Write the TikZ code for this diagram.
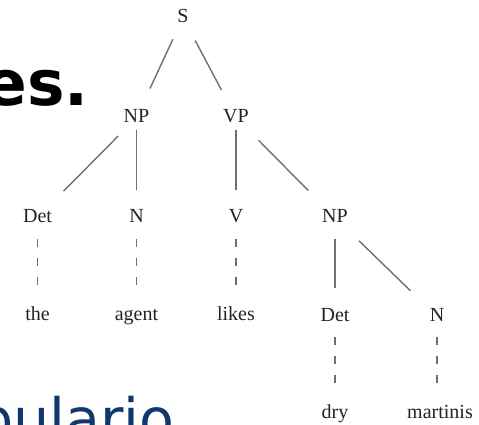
\documentclass[tikz,border=0pt]{standalone}
\usepackage{fontspec}
\setmainfont{Liberation Serif}
\newfontfamily\dejavu{DejaVu Sans}
\definecolor{edgegray}{RGB}{112,112,112}
\definecolor{labelink}{RGB}{35,35,35}
\definecolor{slideblue}{RGB}{16,56,110}
\begin{document}
\begin{tikzpicture}[x=1pt,y=-1pt,
  cat/.style={anchor=center,inner sep=0pt,text height=13pt,text depth=4pt,
    font=\fontsize{20}{24}\selectfont,text=labelink},
  branch/.style={draw=edgegray,line width=1.4pt},
  leafline/.style={draw=edgegray,line width=1.2pt,dash pattern=on 8pt off 11pt}]
\useasboundingbox (0,0) rectangle (479,424);
\clip (0,0) rectangle (479,424);
\fill[white] (0,0) rectangle (479,424);

% slide text fragments
\node[anchor=base east,inner sep=0pt,font=\dejavu\bfseries\fontsize{63}{70}\selectfont,text=black] (title) at (89,105) {es.};
\node[anchor=base west,inner sep=0pt,font=\dejavu\fontsize{57}{64}\selectfont,text=slideblue] (vocab) at (-23,439) {pulario};

% tree nodes
\node[cat] (S)   at (183,17.5)  {S};
\node[cat] (NP)  at (136.5,117.5) {NP};
\node[cat] (VP)  at (236,117.5) {VP};
\node[cat] (Det) at (37.5,217.5) {Det};
\node[cat] (N)   at (136.5,217.5) {N};
\node[cat] (V)   at (236,217.5) {V};
\node[cat] (NPb) at (335,217.5) {NP};
\node[cat] (the)   at (37.5,315.5) {the};
\node[cat] (agent) at (136.5,315.5) {agent};
\node[cat] (likes) at (236,315.5) {likes};
\node[cat] (Detb)  at (335,316.5) {Det};
\node[cat] (Nb)    at (437,316.5) {N};
\node[cat] (dry)      at (335,413.5) {dry};
\node[cat] (martinis) at (440,413.5) {martinis};

% branches
\draw[branch,shorten <=24pt,shorten >=32pt] (S.center) -- (NP.center);
\draw[branch,shorten <=26pt,shorten >=31pt] (S.center) -- (VP.center);
\draw[branch,shorten <=26pt,shorten >=37pt] (NP.center) -- (Det.center);
\draw[branch,shorten <=12pt,shorten >=28pt] (NP.center) -- (N.center);
\draw[branch,shorten <=12pt,shorten >=28pt] (VP.center) -- (V.center);
\draw[branch,shorten <=32pt,shorten >=38pt] (VP.center) -- (NPb.center);
\draw[branch,shorten <=21pt,shorten >=28.5pt] (NPb.center) -- (Detb.center);
\draw[branch,shorten <=33.5pt,shorten >=37pt] (NPb.center) -- (Nb.center);

% lexical links
\draw[leafline,shorten <=21.5pt,shorten >=30.5pt] (Det.center) -- (the.center);
\draw[leafline,shorten <=21.5pt,shorten >=30.5pt] (N.center) -- (agent.center);
\draw[leafline,shorten <=21.5pt,shorten >=30.5pt] (V.center) -- (likes.center);
\draw[leafline,shorten <=20.5pt,shorten >=29.5pt] (Detb.center) -- (dry.center);
\draw[leafline,shorten <=20.5pt,shorten >=29.5pt] (Nb.center) -- (Nb.center |- martinis.center);
\end{tikzpicture}
\end{document}
